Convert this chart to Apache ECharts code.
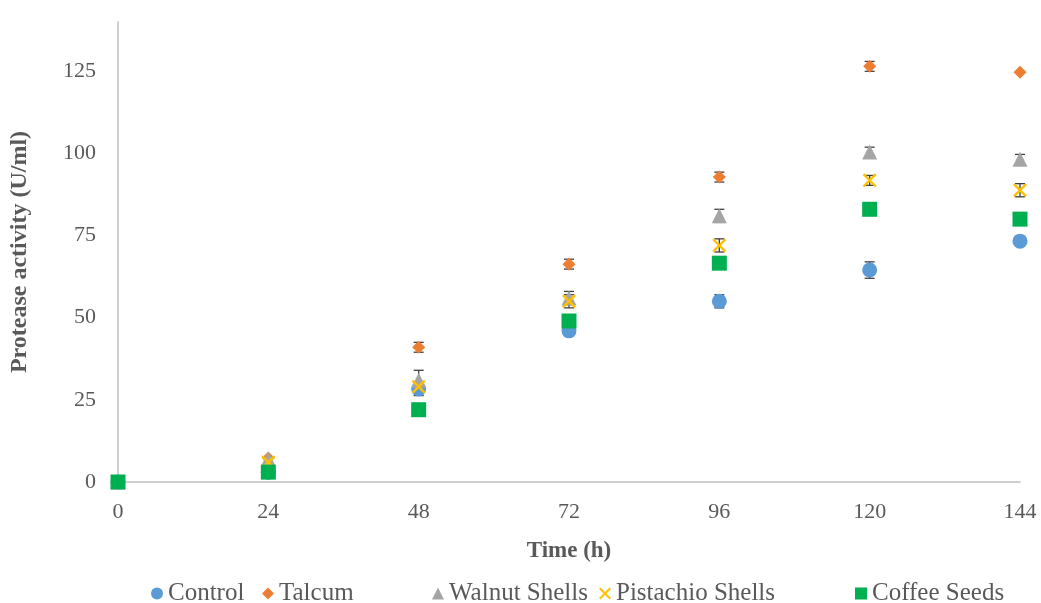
<!DOCTYPE html>
<html>
<head>
<meta charset="utf-8">
<script src="https://cdn.jsdelivr.net/npm/echarts@6/dist/echarts.min.js"></script>
<style>html,body{margin:0;padding:0;background:#fff}#c{width:1041px;height:603px}</style>
</head>
<body>
<div id="c"></div>
<script>
const hours = [0, 24, 48, 72, 96, 120, 144];
const yTicks = [0, 25, 50, 75, 100, 125];
const seriesNames = ['Control', 'Talcum', 'Walnut Shells', 'Pistachio Shells', 'Coffee Seeds'];
const control = [0, 3, 28.3, 46, 55, 64.5, 73.3];
const talcum = [0, 7.3, 41, 66.3, 92.8, 126.5, 124.7];
const walnut = [0, 7, 31, 56, 81, 100.4, 98.2];
const pistachio = [0, 6, 29, 55, 72, 91.8, 88.8];
const coffee = [0, 3, 22, 49, 66.6, 83, 80];
const controlErr = [0, 0, 2, 1, 2, 2.5, 1.5];
const talcumErr = [0, 0, 1.5, 1.5, 1.5, 1.5, 0];
const walnutErr = [0, 0, 3, 2, 2, 1.5, 1.5];
const pistachioErr = [0, 0, 1.5, 2, 2, 1.5, 2];
const coffeeErr = [0, 0, 0, 0, 0, 0, 0];

const colors = ['#5B9BD5', '#ED7D31', '#A5A5A5', '#FFC000', '#00B050'];
const symbols = ['circle', 'diamond', 'triangle',
  'path://M0,1.2L1.2,0L10,8.8L8.8,10Z M8.8,0L10,1.2L1.2,10L0,8.8Z', 'rect'];
const sizes = [15, 13, 15, 14, 15];
const values = [control, talcum, walnut, pistachio, coffee];
const errs = [controlErr, talcumErr, walnutErr, pistachioErr, coffeeErr];
const legendLefts = [151, 262, 432, 599, 855];

const font = '"Liberation Serif", "Times New Roman", serif';
const series = [];
values.forEach((vals, i) => {
  series.push({
    name: seriesNames[i],
    type: 'scatter',
    symbol: symbols[i],
    symbolSize: sizes[i],
    itemStyle: { color: colors[i], opacity: 1 },
    data: hours.map((h, j) => [h, vals[j]]),
    z: 2 + i
  });
});
values.forEach((vals, i) => {
  series.push({
    type: 'custom',
    silent: true,
    z: 1,
    data: hours.map((h, j) => [h, vals[j], errs[i][j]]),
    renderItem: function (params, api) {
      const x = api.value(0), y = api.value(1), e = api.value(2);
      if (!e) return null;
      const top = api.coord([x, y + e]);
      const bot = api.coord([x, y - e]);
      const w = 5;
      const st = { stroke: '#404040', lineWidth: 1.3 };
      return {
        type: 'group',
        children: [
          { type: 'line', shape: { x1: top[0], y1: top[1], x2: bot[0], y2: bot[1] }, style: st },
          { type: 'line', shape: { x1: top[0] - w, y1: top[1], x2: top[0] + w, y2: top[1] }, style: st },
          { type: 'line', shape: { x1: bot[0] - w, y1: bot[1], x2: bot[0] + w, y2: bot[1] }, style: st }
        ]
      };
    }
  });
});

const legends = seriesNames.map((n, i) => ({
  data: [n],
  top: 581,
  left: legendLefts[i],
  padding: 0,
  itemWidth: 12,
  itemHeight: 12,
  selectedMode: false,
  textStyle: { fontFamily: font, fontSize: 25, color: '#595959', padding: [0, 0, 0, 0] }
}));

const chart = echarts.init(document.getElementById('c'), null, { renderer: 'canvas' });
chart.setOption({
  animation: false,
  backgroundColor: '#fff',
  color: colors,
  grid: { left: 117, right: 21, top: 22, bottom: 121, containLabel: false },
  legend: legends,
  xAxis: {
    type: 'value',
    min: 0, max: 144, interval: 24,
    name: 'Time (h)',
    nameLocation: 'middle',
    nameGap: 58,
    nameTextStyle: { fontFamily: font, fontSize: 23, fontWeight: 'bold', color: '#595959' },
    axisLine: { show: true, lineStyle: { color: '#BFBFBF', width: 1.5 } },
    axisTick: { show: false },
    splitLine: { show: false },
    axisLabel: { fontFamily: font, fontSize: 22, color: '#595959', margin: 19 }
  },
  yAxis: {
    type: 'value',
    min: 0, max: 140, interval: 25,
    name: 'Protease activity (U/ml)',
    nameLocation: 'middle',
    nameGap: 86,
    nameRotate: 90,
    nameTextStyle: { fontFamily: font, fontSize: 24, fontWeight: 'bold', color: '#595959' },
    axisLine: { show: true, lineStyle: { color: '#BFBFBF', width: 1.5 } },
    axisTick: { show: false },
    splitLine: { show: false },
    axisLabel: {
      fontFamily: font, fontSize: 22, color: '#595959', margin: 22,
      showMaxLabel: false,
      formatter: v => (yTicks.indexOf(v) >= 0 ? String(v) : '')
    }
  },
  series: series
});
</script>
</body>
</html>
